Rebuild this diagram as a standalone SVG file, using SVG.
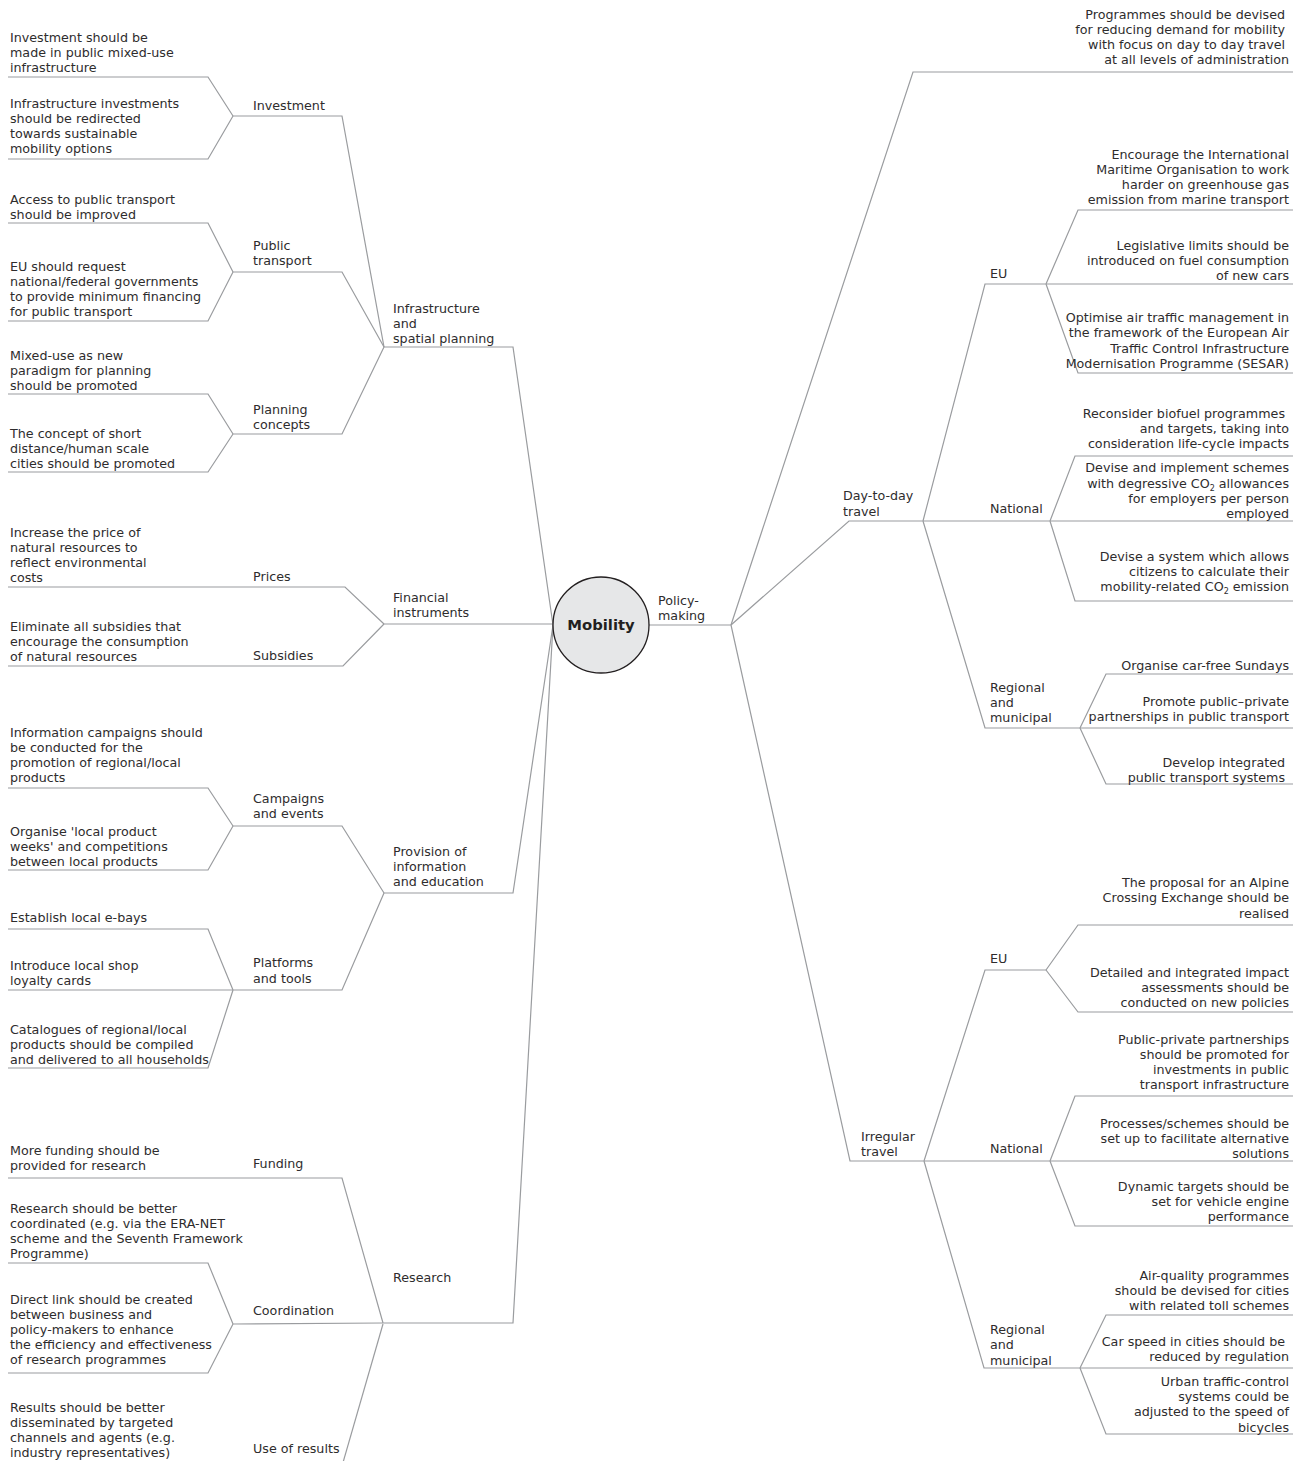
<svg xmlns="http://www.w3.org/2000/svg" width="1301" height="1461" viewBox="0 0 1301 1461">
<style>
  .t { font-family: "DejaVu Sans", Verdana, sans-serif; font-size: 12.7px; fill: #2e2c2d; }
  .r { text-anchor: end; }
  .c { fill: none; stroke: #9a9c9f; stroke-width: 1.2; stroke-linejoin: miter; }
  .hub { fill: #e6e7e8; stroke: #231f20; stroke-width: 1.3; }
  .hubt { font-family: "DejaVu Sans", Verdana, sans-serif; font-size: 14.8px; font-weight: bold; fill: #231f20; text-anchor: middle; }
  .sub { font-size: 8px; }
</style>
<rect width="1301" height="1461" fill="#ffffff"/>

<!-- branch lines -->
<g id="connectors">
  <!-- left: infrastructure and spatial planning -->
  <path class="c" d="M553,625 L513,347 L384,347"/>
  <path class="c" d="M384,347 L342,116 L233,116"/>
  <path class="c" d="M233,116 L208,77 L8,77"/>
  <path class="c" d="M233,116 L208,159 L8,159"/>
  <path class="c" d="M384,347 L342,272 L233,272"/>
  <path class="c" d="M233,272 L208,223 L8,223"/>
  <path class="c" d="M233,272 L208,321 L8,321"/>
  <path class="c" d="M384,347 L342,434 L233,434"/>
  <path class="c" d="M233,434 L208,394 L8,394"/>
  <path class="c" d="M233,434 L208,472 L8,472"/>
  <!-- left: financial instruments -->
  <path class="c" d="M553,624 L384,624"/>
  <path class="c" d="M384,624 L345,587 L8,587"/>
  <path class="c" d="M384,624 L343,666 L8,666"/>
  <!-- left: provision of information and education -->
  <path class="c" d="M553,625 L513,893 L384,893"/>
  <path class="c" d="M384,893 L342,826 L233,826"/>
  <path class="c" d="M233,826 L208,788 L8,788"/>
  <path class="c" d="M233,826 L208,870 L8,870"/>
  <path class="c" d="M384,893 L342,990 L233,990"/>
  <path class="c" d="M233,990 L208,929 L8,929"/>
  <path class="c" d="M233,990 L8,990"/>
  <path class="c" d="M233,990 L208,1068 L8,1068"/>
  <!-- left: research -->
  <path class="c" d="M553,625 L513,1323 L383,1323"/>
  <path class="c" d="M383,1323 L342,1178 L8,1178"/>
  <path class="c" d="M383,1323 L233,1324"/>
  <path class="c" d="M233,1324 L208,1263 L8,1263"/>
  <path class="c" d="M233,1324 L208,1373 L8,1373"/>
  <path class="c" d="M383,1324 L342,1466"/>
  <!-- right: policy-making -->
  <path class="c" d="M649,625 L731,625"/>
  <path class="c" d="M731,625 L913,72 L1293,72"/>
  <path class="c" d="M731,625 L849,521 L923,521"/>
  <path class="c" d="M923,521 L985,284 L1046,284"/>
  <path class="c" d="M1046,284 L1078,210 L1293,210"/>
  <path class="c" d="M1046,284 L1293,284"/>
  <path class="c" d="M1046,284 L1078,373 L1293,373"/>
  <path class="c" d="M923,521 L1050,521"/>
  <path class="c" d="M1050,521 L1075,456 L1293,456"/>
  <path class="c" d="M1050,521 L1293,521"/>
  <path class="c" d="M1050,521 L1075,601 L1293,601"/>
  <path class="c" d="M923,521 L985,728 L1080,728"/>
  <path class="c" d="M1080,728 L1106,674 L1293,674"/>
  <path class="c" d="M1080,728 L1293,728"/>
  <path class="c" d="M1080,728 L1106,784 L1293,784"/>
  <path class="c" d="M731,625 L850,1161 L924,1161"/>
  <path class="c" d="M924,1161 L985,970 L1046,970"/>
  <path class="c" d="M1046,970 L1078,925 L1293,925"/>
  <path class="c" d="M1046,970 L1078,1012 L1293,1012"/>
  <path class="c" d="M924,1161 L1050,1161"/>
  <path class="c" d="M1050,1161 L1075,1096 L1293,1096"/>
  <path class="c" d="M1050,1161 L1293,1161"/>
  <path class="c" d="M1050,1161 L1075,1226 L1293,1226"/>
  <path class="c" d="M924,1161 L984,1368 L1080,1368"/>
  <path class="c" d="M1080,1368 L1106,1315 L1293,1315"/>
  <path class="c" d="M1080,1368 L1293,1368"/>
  <path class="c" d="M1080,1368 L1106,1434 L1293,1434"/>
</g>

<!-- central node -->
<g id="mobility">
  <circle class="hub" cx="601" cy="625" r="48"/>
  <text class="hubt" x="601" y="630">Mobility</text>
</g>

<!-- left branches -->
<g id="infrastructure">
  <text class="t" x="393" y="312.5"><tspan x="393">Infrastructure</tspan><tspan x="393" dy="15">and</tspan><tspan x="393" dy="15.5">spatial planning</tspan></text>
</g>
<g id="investment"><text class="t" x="253" y="110">Investment</text></g>
<g id="investment-mixed-use">
  <text class="t" y="42"><tspan x="10">Investment should be</tspan><tspan x="10" dy="15">made in public mixed-use</tspan><tspan x="10" dy="15">infrastructure</tspan></text>
</g>
<g id="investment-redirect">
  <text class="t" y="108"><tspan x="10">Infrastructure investments</tspan><tspan x="10" dy="15">should be redirected</tspan><tspan x="10" dy="15">towards sustainable</tspan><tspan x="10" dy="15">mobility options</tspan></text>
</g>
<g id="public-transport">
  <text class="t" y="250"><tspan x="253">Public</tspan><tspan x="253" dy="15">transport</tspan></text>
</g>
<g id="pt-access">
  <text class="t" y="204"><tspan x="10">Access to public transport</tspan><tspan x="10" dy="15">should be improved</tspan></text>
</g>
<g id="pt-financing">
  <text class="t" y="271"><tspan x="10">EU should request</tspan><tspan x="10" dy="15">national/federal governments</tspan><tspan x="10" dy="15">to provide minimum financing</tspan><tspan x="10" dy="15">for public transport</tspan></text>
</g>
<g id="planning-concepts">
  <text class="t" y="413.5"><tspan x="253">Planning</tspan><tspan x="253" dy="15">concepts</tspan></text>
</g>
<g id="planning-mixed-use">
  <text class="t" y="360"><tspan x="10">Mixed-use as new</tspan><tspan x="10" dy="15">paradigm for planning</tspan><tspan x="10" dy="15">should be promoted</tspan></text>
</g>
<g id="planning-short-distance">
  <text class="t" y="438"><tspan x="10">The concept of short</tspan><tspan x="10" dy="15">distance/human scale</tspan><tspan x="10" dy="15">cities should be promoted</tspan></text>
</g>

<g id="financial">
  <text class="t" y="601.5"><tspan x="393">Financial</tspan><tspan x="393" dy="15.5">instruments</tspan></text>
</g>
<g id="prices"><text class="t" x="253" y="581">Prices</text></g>
<g id="prices-increase">
  <text class="t" y="536.5"><tspan x="10">Increase the price of</tspan><tspan x="10" dy="15">natural resources to</tspan><tspan x="10" dy="15">reflect environmental</tspan><tspan x="10" dy="15">costs</tspan></text>
</g>
<g id="subsidies"><text class="t" x="253" y="660">Subsidies</text></g>
<g id="subsidies-eliminate">
  <text class="t" y="631"><tspan x="10">Eliminate all subsidies that</tspan><tspan x="10" dy="15">encourage the consumption</tspan><tspan x="10" dy="15">of natural resources</tspan></text>
</g>

<g id="provision">
  <text class="t" y="856"><tspan x="393">Provision of</tspan><tspan x="393" dy="15">information</tspan><tspan x="393" dy="15">and education</tspan></text>
</g>
<g id="campaigns">
  <text class="t" y="803"><tspan x="253">Campaigns</tspan><tspan x="253" dy="15">and events</tspan></text>
</g>
<g id="campaigns-info">
  <text class="t" y="737"><tspan x="10">Information campaigns should</tspan><tspan x="10" dy="15">be conducted for the</tspan><tspan x="10" dy="15">promotion of regional/local</tspan><tspan x="10" dy="15">products</tspan></text>
</g>
<g id="campaigns-weeks">
  <text class="t" y="836"><tspan x="10">Organise 'local product</tspan><tspan x="10" dy="15">weeks' and competitions</tspan><tspan x="10" dy="15">between local products</tspan></text>
</g>
<g id="platforms">
  <text class="t" y="967"><tspan x="253">Platforms</tspan><tspan x="253" dy="15.5">and tools</tspan></text>
</g>
<g id="platforms-ebays"><text class="t" x="10" y="922">Establish local e-bays</text></g>
<g id="platforms-cards">
  <text class="t" y="970"><tspan x="10">Introduce local shop</tspan><tspan x="10" dy="15">loyalty cards</tspan></text>
</g>
<g id="platforms-catalogues">
  <text class="t" y="1033.5"><tspan x="10">Catalogues of regional/local</tspan><tspan x="10" dy="15">products should be compiled</tspan><tspan x="10" dy="15">and delivered to all households</tspan></text>
</g>

<g id="research"><text class="t" x="393" y="1282">Research</text></g>
<g id="funding"><text class="t" x="253" y="1168">Funding</text></g>
<g id="funding-more">
  <text class="t" y="1155"><tspan x="10">More funding should be</tspan><tspan x="10" dy="15">provided for research</tspan></text>
</g>
<g id="coordination"><text class="t" x="253" y="1315">Coordination</text></g>
<g id="coordination-era">
  <text class="t" y="1213"><tspan x="10">Research should be better</tspan><tspan x="10" dy="15">coordinated (e.g. via the ERA-NET</tspan><tspan x="10" dy="15">scheme and the Seventh Framework</tspan><tspan x="10" dy="15">Programme)</tspan></text>
</g>
<g id="coordination-link">
  <text class="t" y="1304"><tspan x="10">Direct link should be created</tspan><tspan x="10" dy="15">between business and</tspan><tspan x="10" dy="15">policy-makers to enhance</tspan><tspan x="10" dy="15">the efficiency and effectiveness</tspan><tspan x="10" dy="15">of research programmes</tspan></text>
</g>
<g id="use-of-results"><text class="t" x="253" y="1453">Use of results</text></g>
<g id="results-disseminate">
  <text class="t" y="1412"><tspan x="10">Results should be better</tspan><tspan x="10" dy="15">disseminated by targeted</tspan><tspan x="10" dy="15">channels and agents (e.g.</tspan><tspan x="10" dy="15">industry representatives)</tspan></text>
</g>

<!-- right branches -->
<g id="policy-making">
  <text class="t" y="605"><tspan x="658">Policy-</tspan><tspan x="658" dy="15">making</tspan></text>
</g>
<g id="policy-demand">
  <text class="t r" y="19"><tspan x="1285">Programmes should be devised</tspan><tspan x="1285" dy="15">for reducing demand for mobility</tspan><tspan x="1285" dy="15">with focus on day to day travel</tspan><tspan x="1289" dy="15">at all levels of administration</tspan></text>
</g>

<g id="day-to-day">
  <text class="t" y="500"><tspan x="843">Day-to-day</tspan><tspan x="843" dy="15.5">travel</tspan></text>
</g>
<g id="day-eu"><text class="t" x="990" y="278">EU</text></g>
<g id="day-eu-imo">
  <text class="t r" y="158.5"><tspan x="1289">Encourage the International</tspan><tspan x="1289" dy="15.3">Maritime Organisation to work</tspan><tspan x="1289" dy="15.3">harder on greenhouse gas</tspan><tspan x="1289" dy="15.3">emission from marine transport</tspan></text>
</g>
<g id="day-eu-fuel">
  <text class="t r" y="249.5"><tspan x="1289">Legislative limits should be</tspan><tspan x="1289" dy="15">introduced on fuel consumption</tspan><tspan x="1289" dy="15">of new cars</tspan></text>
</g>
<g id="day-eu-sesar">
  <text class="t r" y="322"><tspan x="1289">Optimise air traffic management in</tspan><tspan x="1289" dy="15.3">the framework of the European Air</tspan><tspan x="1289" dy="15.3">Traffic Control Infrastructure</tspan><tspan x="1289" dy="15.3">Modernisation Programme (SESAR)</tspan></text>
</g>
<g id="day-national"><text class="t" x="990" y="513">National</text></g>
<g id="day-national-biofuel">
  <text class="t r" y="418"><tspan x="1285">Reconsider biofuel programmes</tspan><tspan x="1289" dy="15">and targets, taking into</tspan><tspan x="1289" dy="15">consideration life-cycle impacts</tspan></text>
</g>
<g id="day-national-allowances">
  <text class="t r" y="472"><tspan x="1289">Devise and implement schemes</tspan><tspan x="1289" y="487.5">with degressive CO<tspan class="sub" dy="3">2</tspan><tspan dy="-3"> allowances</tspan></tspan><tspan x="1289" y="502.5">for employers per person</tspan><tspan x="1289" y="517.5">employed</tspan></text>
</g>
<g id="day-national-calculator">
  <text class="t r" y="561"><tspan x="1289">Devise a system which allows</tspan><tspan x="1289" y="576">citizens to calculate their</tspan><tspan x="1289" y="591">mobility-related CO<tspan class="sub" dy="3">2</tspan><tspan dy="-3"> emission</tspan></tspan></text>
</g>
<g id="day-regional">
  <text class="t" y="692"><tspan x="990">Regional</tspan><tspan x="990" dy="15">and</tspan><tspan x="990" dy="15">municipal</tspan></text>
</g>
<g id="day-regional-sundays"><text class="t r" x="1289" y="669.5">Organise car-free Sundays</text></g>
<g id="day-regional-ppp">
  <text class="t r" y="706"><tspan x="1289">Promote public–private</tspan><tspan x="1289" dy="15">partnerships in public transport</tspan></text>
</g>
<g id="day-regional-integrated">
  <text class="t r" y="767"><tspan x="1285">Develop integrated</tspan><tspan x="1285" dy="15">public transport systems</tspan></text>
</g>

<g id="irregular">
  <text class="t" y="1140.5"><tspan x="861">Irregular</tspan><tspan x="861" dy="15">travel</tspan></text>
</g>
<g id="irr-eu"><text class="t" x="990" y="963">EU</text></g>
<g id="irr-eu-alpine">
  <text class="t r" y="886.5"><tspan x="1289">The proposal for an Alpine</tspan><tspan x="1289" dy="15.5">Crossing Exchange should be</tspan><tspan x="1289" dy="15.5">realised</tspan></text>
</g>
<g id="irr-eu-impact">
  <text class="t r" y="977"><tspan x="1289">Detailed and integrated impact</tspan><tspan x="1289" dy="15">assessments should be</tspan><tspan x="1289" dy="15">conducted on new policies</tspan></text>
</g>
<g id="irr-national"><text class="t" x="990" y="1152.5">National</text></g>
<g id="irr-national-ppp">
  <text class="t r" y="1043.5"><tspan x="1289">Public-private partnerships</tspan><tspan x="1289" dy="15.3">should be promoted for</tspan><tspan x="1289" dy="15.3">investments in public</tspan><tspan x="1289" dy="15.3">transport infrastructure</tspan></text>
</g>
<g id="irr-national-processes">
  <text class="t r" y="1128"><tspan x="1289">Processes/schemes should be</tspan><tspan x="1289" dy="15">set up to facilitate alternative</tspan><tspan x="1289" dy="15">solutions</tspan></text>
</g>
<g id="irr-national-targets">
  <text class="t r" y="1191"><tspan x="1289">Dynamic targets should be</tspan><tspan x="1289" dy="15">set for vehicle engine</tspan><tspan x="1289" dy="15">performance</tspan></text>
</g>
<g id="irr-regional">
  <text class="t" y="1334"><tspan x="990">Regional</tspan><tspan x="990" dy="15">and</tspan><tspan x="990" dy="15.5">municipal</tspan></text>
</g>
<g id="irr-regional-air">
  <text class="t r" y="1279.5"><tspan x="1289">Air-quality programmes</tspan><tspan x="1289" dy="15">should be devised for cities</tspan><tspan x="1289" dy="15">with related toll schemes</tspan></text>
</g>
<g id="irr-regional-speed">
  <text class="t r" y="1346"><tspan x="1285">Car speed in cities should be</tspan><tspan x="1289" dy="15">reduced by regulation</tspan></text>
</g>
<g id="irr-regional-bicycles">
  <text class="t r" y="1385.5"><tspan x="1289">Urban traffic-control</tspan><tspan x="1289" dy="15.4">systems could be</tspan><tspan x="1289" dy="15.4">adjusted to the speed of</tspan><tspan x="1289" dy="15.4">bicycles</tspan></text>
</g>
</svg>
